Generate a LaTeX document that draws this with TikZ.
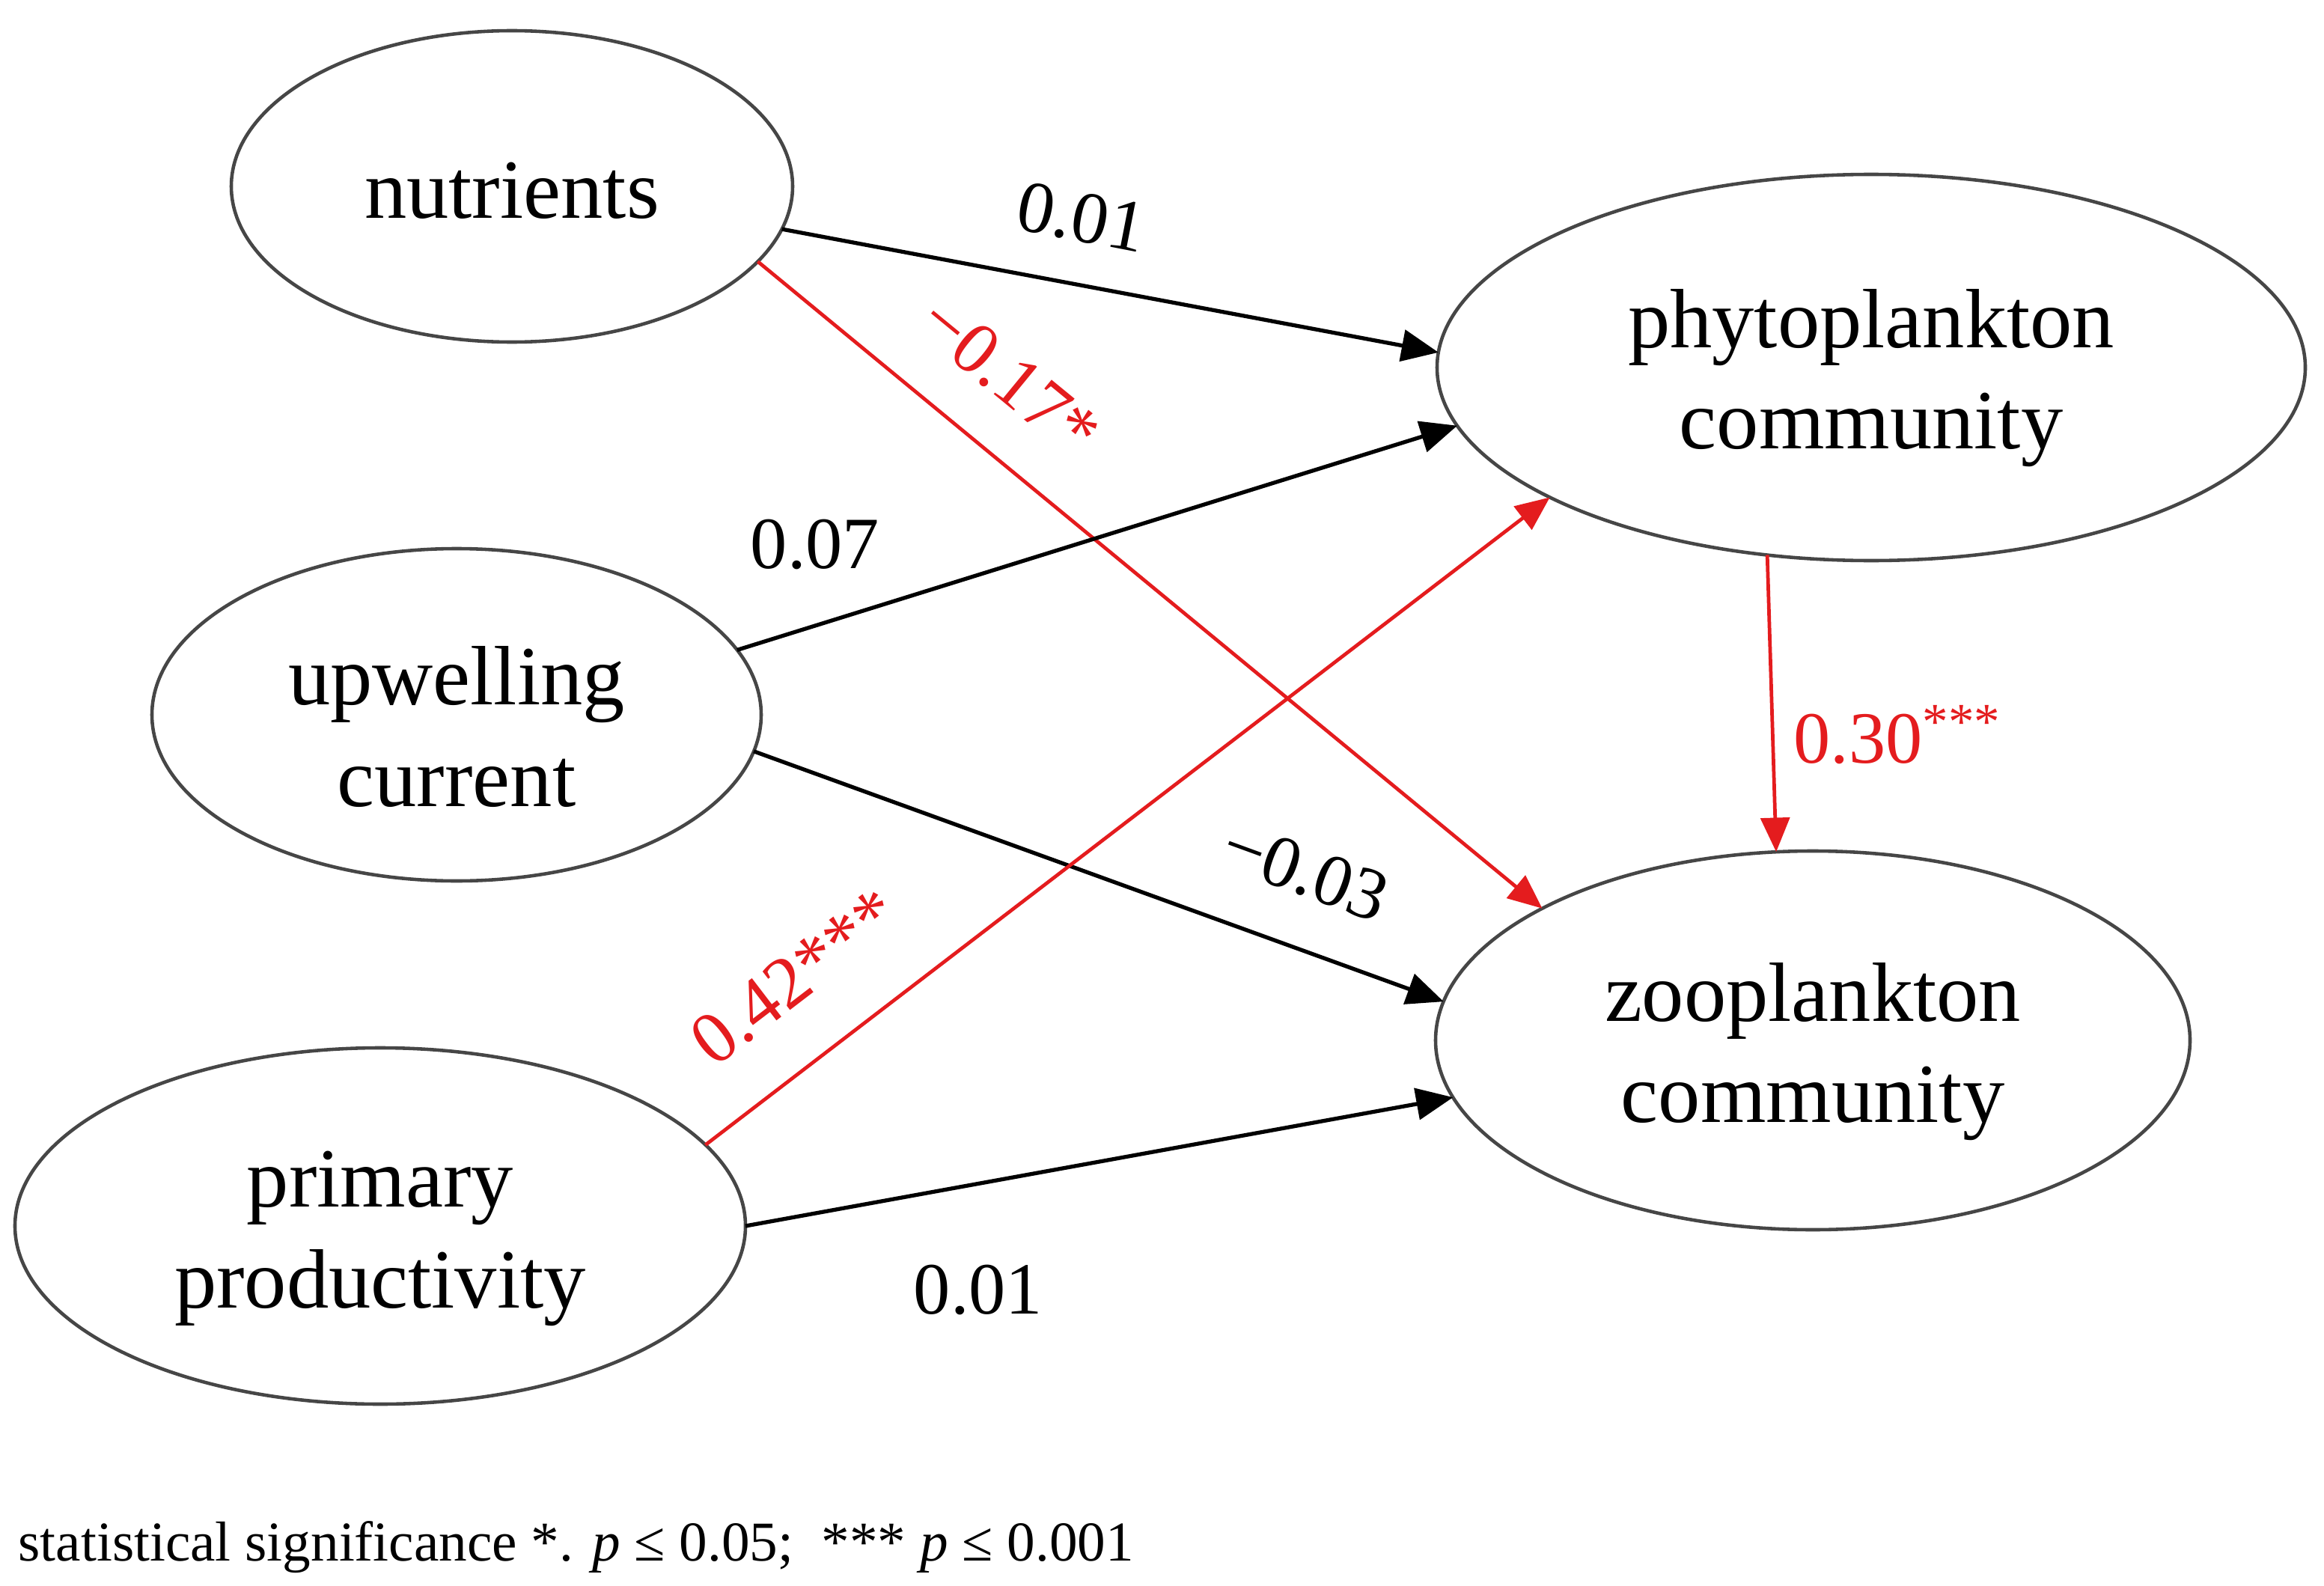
\documentclass[tikz,border=0pt]{standalone}
\usepackage{fontspec}
\setmainfont{Liberation Serif}
\usetikzlibrary{shapes.geometric,arrows.meta}
\definecolor{myred}{RGB}{228,28,30}
\definecolor{outl}{RGB}{70,70,70}
\tikzset{
  var/.style={ellipse, draw=outl, line width=1.3pt, inner sep=0pt, outer sep=0pt},
  vtext/.style={align=center, inner sep=0pt, font=\fontsize{32}{38.5}\selectfont},
  blk/.style={draw=black, line width=1.5pt, -{Triangle[length=14pt,width=12pt]}},
  rd/.style={draw=myred, line width=1.35pt, -{Triangle[length=13pt,width=11pt]}},
  lab/.style={font=\fontsize{28}{32}\selectfont, inner sep=0pt},
  labr/.style={lab, text=myred},
  foot/.style={font=\fontsize{21.4}{26}\selectfont, inner sep=0pt}
}
\begin{document}
\begin{tikzpicture}
\useasboundingbox (0,0) rectangle (31.05,-21.19);
\node[var, minimum width=7.50cm, minimum height=4.16cm] (nutr) at (6.84,-2.49) {};
\node[var, minimum width=11.60cm, minimum height=5.16cm] (phyto) at (25.00,-4.91) {};
\node[var, minimum width=8.14cm, minimum height=4.44cm] (upw) at (6.10,-9.55) {};
\node[var, minimum width=10.08cm, minimum height=5.06cm] (zoo) at (24.22,-13.90) {};
\node[var, minimum width=9.76cm, minimum height=4.76cm] (prim) at (5.08,-16.38) {};

\node[vtext] (nutrt) at ([yshift=-0.06cm]nutr.center) {nutrients};
\node[vtext] (phytot) at ([yshift=-0.14cm]phyto.center) {phytoplankton\\community};
\node[vtext] (upwt) at ([yshift=-0.16cm]upw.center) {upwelling\\current};
\node[vtext] (zoot) at ([yshift=-0.15cm]zoo.center) {zooplankton\\community};
\node[vtext] (primt) at ([yshift=-0.17cm]prim.center) {primary\\productivity};

\draw[blk] (nutr.-9) -- (phyto.178.5);
\draw[rd] (nutr.-17.6) -- (zoo.154.6);
\draw[blk] (upw.13) -- (phyto.-172.3);
\draw[blk] (upw.-7.4) -- (zoo.174.1);
\draw[rd] (prim.14.6) -- (phyto.-158.1);
\draw[blk] (prim.0) -- (zoo.-171.1);
\draw[rd] (phyto.-119.4) -- (zoo.101);

\node[lab, rotate=-11] (l1) at (14.45,-2.90) {0.01};
\node[labr, rotate=-39.4] (l2) at (13.49,-5.03) {−0.17*};
\node[lab] (l3) at (10.89,-7.27) {0.07};
\node[lab, rotate=-20] (l4) at (17.44,-11.64) {−0.03};
\node[labr, rotate=37.4] (l5) at (10.62,-13.05) {0.42***};
\node[labr, anchor=west] (l6) at (23.96,-9.82) {0.30\textsuperscript{***}};
\node[lab] (l7) at (13.07,-17.23) {0.01};
\node[foot, anchor=base west] (fn) at (0.24,-20.85) {statistical significance *. \textit{p} ≤ 0.05;\ \ *** \textit{p} ≤ 0.001};
\end{tikzpicture}
\end{document}
